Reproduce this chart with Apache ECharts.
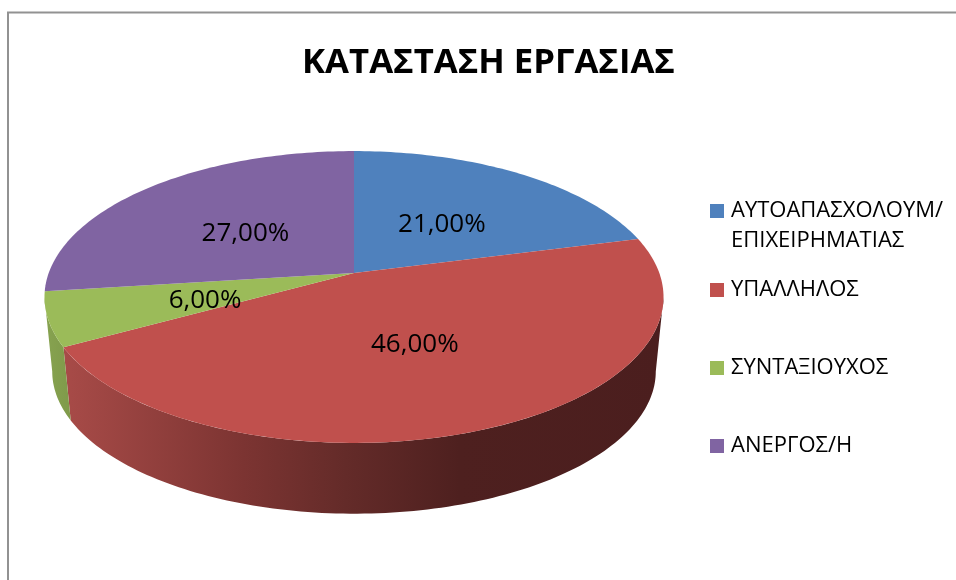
<!DOCTYPE html>
<html>
<head>
<meta charset="utf-8">
<style>html,body{margin:0;padding:0;background:#fff}#c{width:956px;height:580px}</style>
<script src="https://cdn.jsdelivr.net/npm/echarts@6/dist/echarts.min.js"></script>
</head>
<body>
<div id="c"></div>
<script>
const chartTitle = 'ΚΑΤΑΣΤΑΣΗ ΕΡΓΑΣΙΑΣ';
const categories = ['ΑΥΤΟΑΠΑΣΧΟΛΟΥΜ/ ΕΠΙΧΕΙΡΗΜΑΤΙΑΣ', 'ΥΠΑΛΛΗΛΟΣ', 'ΣΥΝΤΑΞΙΟΥΧΟΣ', 'ΑΝΕΡΓΟΣ/Η'];
const values = [21, 46, 6, 27];
const colors = ['#4f81bd', '#c0504d', '#9bbb59', '#8064a2'];
const legendCentres = [211, 290, 368, 446];
const labelNudgeY = [4, 0, 5, 5];

const FONT = '"Open Sans", "Noto Sans", sans-serif';
const total = values.reduce((a, b) => a + b, 0);
// perspective disc projection
const apex = { x: 354, y: 273 }, A = 305.3, K = 142, P = 0.1644, DEPTH = 75, SHRINK = 0.975;
// silhouette angles: the rim turns back on itself here, so the side wall is only visible between them
const WALL_FROM = Math.acos(-P), WALL_TO = 2 * Math.PI - WALL_FROM;
function project(theta, r, lower) {
  const s = Math.sin(theta) * r, c = Math.cos(theta) * r, d = 1 + P * c;
  const f = lower ? SHRINK : 1;
  return [apex.x + f * A * s / d, apex.y + (lower ? DEPTH : 0) - f * K * c / d];
}
function arc(a0, a1, lower) {
  const n = Math.max(4, Math.ceil((a1 - a0) / 0.02)), pts = [];
  for (let i = 0; i <= n; i++) pts.push(project(a0 + (a1 - a0) * i / n, 1, lower));
  return pts;
}
const wallFill = [
  '#3f6897',
  new echarts.graphic.LinearGradient(0, 0, 1, 0, [
    { offset: 0, color: '#a84b48' }, { offset: 0.3, color: '#7c3432' },
    { offset: 0.47, color: '#642b29' }, { offset: 0.66, color: '#4e201f' }, { offset: 1, color: '#4b1e1e' }
  ]),
  new echarts.graphic.LinearGradient(0, 0, 1, 0, [
    { offset: 0, color: '#87a350' }, { offset: 1, color: '#7f9a4a' }
  ]),
  '#664f82'
];
function sliceRenderer(idx) {
  return function (params, api) {
    const before = values.slice(0, idx).reduce((a, b) => a + b, 0);
    const v = api.value(0);
    const a0 = before / total * Math.PI * 2, a1 = (before + v) / total * Math.PI * 2;
    const top = arc(a0, a1, false);
    const mid = project((a0 + a1) / 2, 0.5, false);
    const children = [];
    const w0 = Math.max(a0, WALL_FROM), w1 = Math.min(a1, WALL_TO);
    if (w1 > w0) {
      children.push({
        type: 'polygon', z2: 0, silent: true,
        shape: { points: arc(w0, w1, false).concat(arc(w0, w1, true).reverse()) },
        style: { fill: wallFill[idx] }
      });
    }
    children.push({
      type: 'polygon', z2: 1, silent: true,
      shape: { points: [project(0, 0, false)].concat(top) },
      style: { fill: colors[idx] }
    }, {
      type: 'text', z2: 2, silent: true, x: mid[0], y: mid[1] + labelNudgeY[idx],
      style: {
        text: v.toFixed(2).replace('.', ',') + '%',
        fill: '#000', font: '26px ' + FONT, align: 'center', verticalAlign: 'middle'
      }
    });
    return { type: 'group', children };
  };
}
const series = categories.map((name, i) => ({
  type: 'custom', name, coordinateSystem: 'none', animation: false,
  itemStyle: { color: colors[i] }, data: [[values[i]]],
  encode: { value: 0 }, renderItem: sliceRenderer(i)
}));
const LH = 30;
const legends = categories.map((name, i) => ({
  data: [name], orient: 'vertical', left: 710, itemWidth: 14, itemHeight: 14, padding: 0,
  top: legendCentres[i] - (i === 0 ? 1.5 * LH : LH / 2),
  icon: 'rect', selectedMode: false,
  formatter: n => n.includes(' ') ? '\n' + n.replace(' ', '\n') : n,
  textStyle: { fontFamily: FONT, fontSize: 22, color: '#000', lineHeight: LH, padding: [0, 0, 0, 2] }
}));
const chart = echarts.init(document.getElementById('c'), null, { renderer: 'canvas' });
chart.setOption({
  backgroundColor: '#fff',
  animation: false,
  color: colors,
  title: {
    text: chartTitle, left: 483.5, top: 41, textAlign: 'center',
    textStyle: { fontFamily: FONT, fontWeight: 'bold', fontSize: 34.7, color: '#000' }
  },
  legend: legends,
  series,
  graphic: [{
    type: 'polyline', silent: true,
    shape: { points: [[8, 580], [8, 12.5], [956, 12.5]] },
    style: { stroke: '#929292', lineWidth: 2, fill: null }
  }]
});
</script>
</body>
</html>
